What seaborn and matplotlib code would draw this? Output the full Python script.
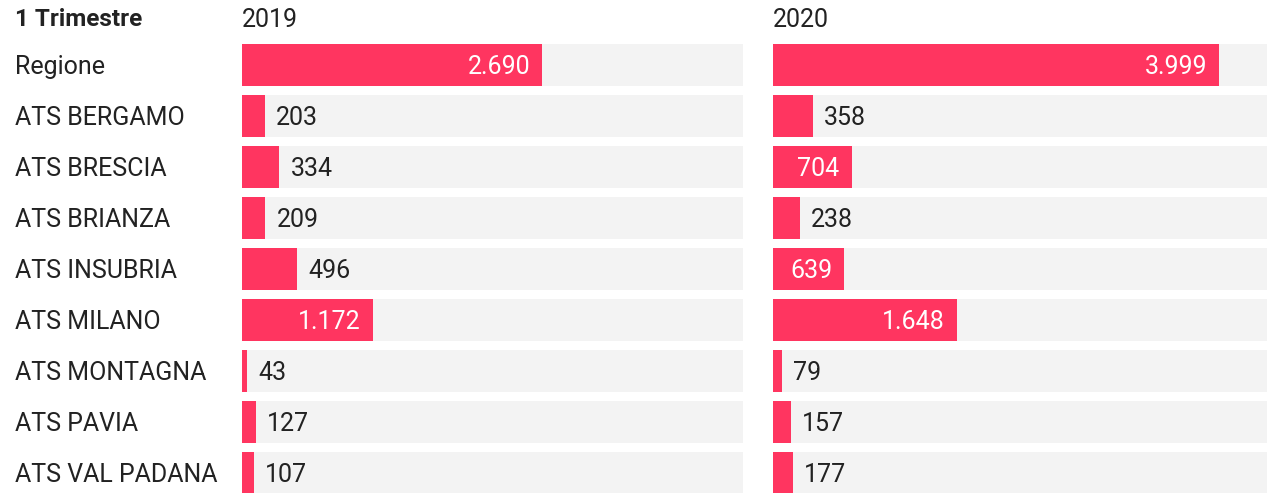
import numpy as np
import matplotlib
matplotlib.use("Agg")
import matplotlib.pyplot as plt
import matplotlib.transforms as mtransforms
import seaborn as sns

regions = ['Regione', 'ATS BERGAMO', 'ATS BRESCIA', 'ATS BRIANZA', 'ATS INSUBRIA',
           'ATS MILANO', 'ATS MONTAGNA', 'ATS PAVIA', 'ATS VAL PADANA']
years = ['2019', '2020']
v2019 = [2690, 203, 334, 209, 496, 1172, 43, 127, 107]
v2020 = [3999, 358, 704, 238, 639, 1648, 79, 157, 177]
title = '1 Trimestre'

bar_color = '#ff3560'
track_color = '#f3f3f3'
text_color = '#222222'
xmax = 4490

sns.set_style('white')
plt.rcParams['font.family'] = ['Roboto', 'DejaVu Sans']

W, H = 1267, 493
fig = plt.figure(figsize=(W / 100, H / 100), dpi=100)

def fmt(v):
    return f'{v:,}'.replace(',', '.')

def px_axes(left, top, width, bottom):
    return fig.add_axes([left / W, 1 - bottom / H, width / W, (bottom - top) / H])

fs = 18
for left, year, vals in [(242, years[0], v2019), (773, years[1], v2020)]:
    ax = px_axes(left, 39.5, 501, H)
    track = [xmax] * len(regions)
    sns.barplot(x=track, y=regions, orient='h', color=track_color, saturation=1,
                width=0.82, linewidth=0, ax=ax)
    sns.barplot(x=vals, y=regions, orient='h', color=bar_color, saturation=1,
                width=0.82, linewidth=0, ax=ax)
    ax.set_xlim(0, xmax)
    ax.set_ylim((H - 65) / 51, -0.5)
    ax.axis('off')
    for i, v in enumerate(vals):
        if v > 550:
            ax.annotate(fmt(v), (v, i), xytext=(-8.5, -1.5), textcoords='offset points',
                        ha='right', va='center', color='white', fontsize=fs)
        else:
            ax.annotate(fmt(v), (v, i), xytext=(8, -1.5), textcoords='offset points',
                        ha='left', va='center', color=text_color, fontsize=fs)
    fig.text(left / W, 1 - 20 / H, year, ha='left', va='center', color=text_color, fontsize=fs)
    if left == 242:
        trans = mtransforms.blended_transform_factory(fig.transFigure, ax.transData)
        for i, r in enumerate(regions):
            ax.text(15 / W, i + 0.04, r, transform=trans, ha='left', va='center',
                    color=text_color, fontsize=fs, clip_on=False)

fig.text(15 / W, 1 - 20 / H, title, ha='left', va='center', color=text_color,
         fontsize=17.5, fontweight='bold')

fig.savefig('out.png', dpi=100, facecolor='white')
